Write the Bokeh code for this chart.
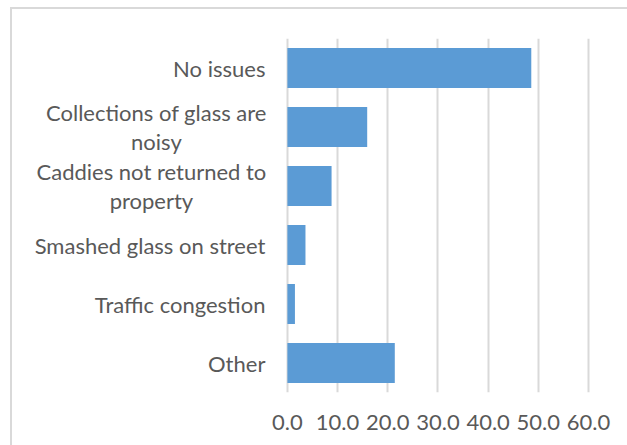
from bokeh.plotting import figure
from bokeh.models import ColumnDataSource, FactorRange, Range1d, FixedTicker
from bokeh.core.properties import value
from bokeh.embed import file_html
from bokeh.resources import INLINE

categories = [
    "No issues",
    "Collections of glass are\nnoisy",
    "Caddies not returned to\nproperty",
    "Smashed glass on street",
    "Traffic congestion",
    "Other",
]
values = [48.6, 15.9, 8.8, 3.6, 1.5, 21.4]
tick_values = [0, 10, 20, 30, 40, 50, 60]
tick_labels = ["0.0", "10.0", "20.0", "30.0", "40.0", "50.0", "60.0"]

src = ColumnDataSource(dict(cat=categories, val=values))

# category labels: single-line ones right aligned; wrapped ones centred as a block
block_offset = {"Collections": -131, "Caddies": -136}
single = dict(cat=[], line=[], zero=[])
wrapped = dict(cat=[], line=[], zero=[], xoff=[], yoff=[])
for c in categories:
    lines = c.split("\n")
    n = len(lines)
    if n == 1:
        single["cat"].append(c)
        single["line"].append(c)
        single["zero"].append(0)
        continue
    for i, ln in enumerate(lines):
        wrapped["cat"].append(c)
        wrapped["line"].append(ln)
        wrapped["zero"].append(0)
        wrapped["xoff"].append(block_offset[c.split()[0]])
        wrapped["yoff"].append((i - (n - 1) / 2) * 29)

p = figure(
    width=617, height=438,
    y_range=FactorRange(factors=list(reversed(categories)), range_padding=0),
    x_range=Range1d(-50.8, 60.8),
    output_backend="svg", toolbar_location=None,
    min_border_left=20, min_border_right=37, min_border_top=29, min_border_bottom=55,
)
p.styles = {"margin-left": "10px", "margin-top": "7px",
            "border-left": "2px solid #d9d9d9", "border-top": "2px solid #d9d9d9"}
p.outline_line_color = None

p.hbar(y="cat", right="val", left=0, height=0.68, source=src,
       fill_color="#5b9bd5", line_color=None)

font = "Lato"
fsize = "22px"
p.text(x="zero", y="cat", text="line", source=ColumnDataSource(single), x_offset=-22,
       text_align="right", text_baseline="middle",
       text_font=value(font), text_font_size=value(fsize), text_color="#595959")
p.text(x="zero", y="cat", text="line", source=ColumnDataSource(wrapped),
       x_offset="xoff", y_offset="yoff",
       text_align="center", text_baseline="middle",
       text_font=value(font), text_font_size=value(fsize), text_color="#595959")

p.xaxis.ticker = FixedTicker(ticks=tick_values)
p.xaxis.major_label_overrides = {v: l for v, l in zip(tick_values, tick_labels)}
p.xaxis.major_label_text_font = font
p.xaxis.major_label_text_font_size = fsize
p.xaxis.major_label_text_color = "#595959"
p.xaxis.major_label_standoff = 16
p.xaxis.axis_line_color = None
p.xaxis.major_tick_line_color = None
p.xaxis.minor_tick_line_color = None

p.yaxis.visible = False

p.xgrid.grid_line_color = "#d9d9d9"
p.xgrid.grid_line_width = 2
p.ygrid.grid_line_color = None

open("out.html", "w").write(file_html(p, INLINE))
